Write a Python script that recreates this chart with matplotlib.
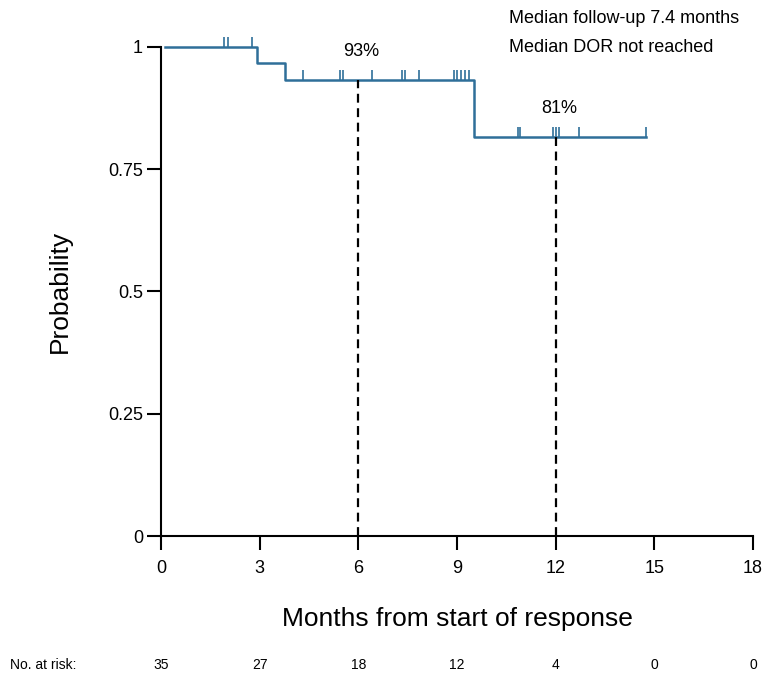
import matplotlib
matplotlib.use("Agg")
import matplotlib.pyplot as plt
import matplotlib.transforms as mtransforms

plt.rcParams['font.family'] = ['Liberation Sans Narrow', 'Liberation Sans', 'DejaVu Sans']

# step curve: times where survival changes and the level after each time
step_times = [0, 2.92, 3.77, 9.51, 14.74]
step_surv = [1.0, 0.967, 0.933, 0.816, 0.816]

# censored observations (months)
censor_times = [1.92, 2.04, 2.76, 4.33, 5.44, 5.54, 6.43, 7.34, 7.42, 7.85,
                8.91, 9.01, 9.11, 9.24, 9.37, 10.84, 10.91, 11.92, 12.02,
                12.10, 12.71, 14.74]

landmark_times = [6, 12]
landmark_labels = ['93%', '81%']

xticks = [0, 3, 6, 9, 12, 15, 18]
at_risk = [35, 27, 18, 12, 4, 0, 0]

color = '#2f6f99'

fig = plt.figure(figsize=(7.72, 6.76), dpi=100)
ax = fig.add_axes([0.2085, 0.2071, 0.767, 0.7234])


def surv_at(t):
    s = step_surv[0]
    for tt, ss in zip(step_times, step_surv):
        if t >= tt:
            s = ss
    return s


ax.step([0.12] + step_times[1:], step_surv, where='post', color=color, lw=1.8, clip_on=False)

# censor marks: short upward ticks
tick_up = [(0, 0), (0, 1)]
cs = [surv_at(t) for t in censor_times]
ax.plot(censor_times, cs, linestyle='none', marker=tick_up, markersize=15,
        markeredgewidth=1.2, color=color, fillstyle='none', clip_on=False)

# landmark dashed lines
for t, lab in zip(landmark_times, landmark_labels):
    s = surv_at(t)
    ax.plot([t, t], [0, s], color='black', ls=(0, (4, 2.5)), lw=1.6)
    ax.text(t + 0.1, s + 0.04, lab, ha='center', va='bottom', fontsize=13)

ax.set_xlim(0, 18)
ax.set_ylim(0, 1)
ax.set_xticks(xticks)
ax.set_yticks([0, 0.25, 0.5, 0.75, 1])
ax.set_yticklabels(['0', '0.25', '0.5', '0.75', '1'])
ax.spines['top'].set_visible(False)
ax.spines['right'].set_visible(False)
for sp in ['left', 'bottom']:
    ax.spines[sp].set_linewidth(1.5)
ax.tick_params(axis='both', direction='out', length=10, width=1.5, labelsize=13)
ax.tick_params(axis='x', pad=7)
ax.tick_params(axis='y', pad=3)

ax.set_ylabel('Probability', fontsize=19, labelpad=26)
ax.set_xlabel('Months from start of response', fontsize=19, labelpad=22)

fig.text(0.659, 0.972, 'Median follow-up 7.4 months', fontsize=13, ha='left', va='center')
fig.text(0.659, 0.929, 'Median DOR not reached', fontsize=13, ha='left', va='center')

# numbers at risk
trans = mtransforms.blended_transform_factory(ax.transData, fig.transFigure)
fig.text(0.013, 0.016, 'No. at risk:', fontsize=10, ha='left', va='center')
for t, n in zip(xticks, at_risk):
    ax.text(t, 0.016, str(n), transform=trans, fontsize=10, ha='center', va='center')

fig.savefig('out.png', dpi=100)
